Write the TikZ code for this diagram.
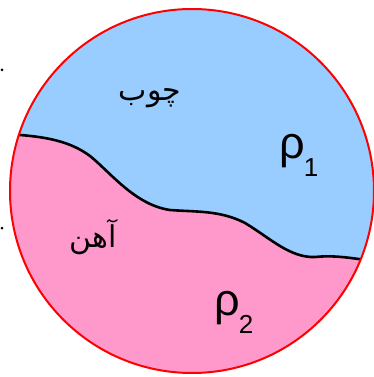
\documentclass[tikz,border=0pt]{standalone}
\usepackage{fontspec}
\TeXXeTstate=1
\newfontfamily\arabicfont[Script=Arabic]{DejaVu Sans}
\newfontfamily\greekfont{Liberation Sans}
\definecolor{woodblue}{HTML}{99CCFF}
\definecolor{ironpink}{HTML}{FF99CC}
\definecolor{rimred}{HTML}{FF0000}
\tikzset{
  rim/.style={draw=rimred, line width=2pt},
  wave/.style={draw=black, line width=2.6pt},
  lbl/.style={inner sep=0pt, text=black},
  rholbl/.style={lbl, anchor=base west, font=\greekfont\fontsize{45}{47}\selectfont},
}
\newcommand{\rhosub}[1]{ρ\kern-1pt\raisebox{-18pt}{\fontsize{26}{28}\selectfont #1}}
\begin{document}
\begin{tikzpicture}[x=1pt,y=-1pt]
\useasboundingbox (0,0) rectangle (374,377);
\coordinate (c) at (192,191);
\fill[woodblue] (c) circle (182);
\begin{scope}
  \clip (c) circle (182);
  \fill[ironpink] (0,133) -- (20,135) .. controls (45,137) and (70,141) .. (90,156)
    .. controls (110,172) and (135,205) .. (170,210)
    .. controls (195,212) and (220,210) .. (245,223)
    .. controls (270,238) and (290,258) .. (315,257)
    .. controls (335,255) and (350,258) .. (374,261)
    -- (374,377) -- (0,377) -- cycle;
  \draw[wave] (0,133) -- (20,135) .. controls (45,137) and (70,141) .. (90,156)
    .. controls (110,172) and (135,205) .. (170,210)
    .. controls (195,212) and (220,210) .. (245,223)
    .. controls (270,238) and (290,258) .. (315,257)
    .. controls (335,255) and (350,258) .. (374,261);
\end{scope}
\draw[rim] (c) circle (182);
\fill[black] (2,70) circle (1.5);
\fill[black] (2,228) circle (1.5);
\node[lbl, font=\arabicfont\fontsize{30}{34}\selectfont] (wood) at (150,98) {\beginR چوب\endR};
\node[lbl, font=\arabicfont\fontsize{30}{34}\selectfont] (iron) at (93,237) {\beginR آهن\endR};
\node[rholbl] (r1) at (279,158) {\rhosub{1}};
\node[rholbl] (r2) at (214,315) {\rhosub{2}};
\end{tikzpicture}
\end{document}
